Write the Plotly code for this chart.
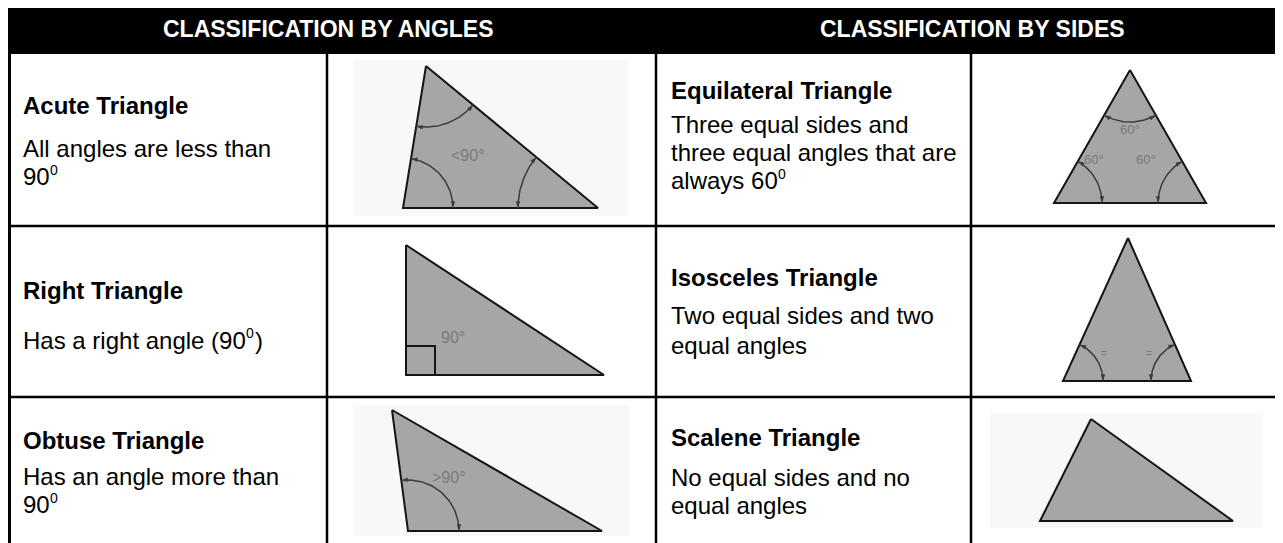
import numpy as np
import plotly.graph_objects as go

W, H = 1283, 543
OFF = 8  # the page body margin that the browser adds around the plot

# ---------------- data ----------------
header_titles = ["CLASSIFICATION BY ANGLES", "CLASSIFICATION BY SIDES"]
header_cx = [328, 972]

angle_names = ["Acute Triangle", "Right Triangle", "Obtuse Triangle"]
angle_name_y = [105, 290, 440]
# each description line: (text, superscript, text after superscript)
angle_desc = [[("All angles are less than", "", ""), ("90", "0", "")],
              [("Has a right angle (90", "0", ")")],
              [("Has an angle more than", "", ""), ("90", "0", "")]]
angle_desc_y = [[148, 176.5], [340], [476, 504.5]]

side_names = ["Equilateral Triangle", "Isosceles Triangle", "Scalene Triangle"]
side_name_y = [90, 277, 437]
side_desc = [[("Three equal sides and", "", ""), ("three equal angles that are", "", ""),
              ("always 60", "0", "")],
             [("Two equal sides and two", "", ""), ("equal angles", "", "")],
             [("No equal sides and no", "", ""), ("equal angles", "", "")]]
side_desc_y = [[124, 152, 180.5], [315, 345], [477, 505]]

col_x = [9.5, 327, 656, 971]
row_y = [53, 226, 397]

# triangle vertices
acute_x, acute_y = [426, 403, 598], [66, 208, 208]
right_x, right_y = [406, 406, 604], [245, 375, 375]
obtuse_x, obtuse_y = [392, 408, 602], [410, 531, 531]
equi_x, equi_y = [1130, 1054, 1206], [70, 203, 203]
isos_x, isos_y = [1128, 1063, 1191], [238, 381, 381]
scal_x, scal_y = [1091, 1040, 1233], [419, 521, 521]

# angle arcs: (triangle, vertex index, radius)
arcs = [("acute", 0, 61), ("acute", 1, 50), ("acute", 2, 80),
        ("obtuse", 1, 51),
        ("equi", 0, 52), ("equi", 1, 48), ("equi", 2, 48),
        ("isos", 1, 40), ("isos", 2, 40)]

angle_labels = ["<90°", "90°", ">90°", "60°", "60°", "60°", "=", "="]
angle_label_x = [468, 453, 449, 1130, 1094, 1146, 1104, 1149]
angle_label_y = [155, 337, 477, 129, 159, 159, 353, 353]
angle_label_size = [16, 16, 16, 13, 13, 13, 10, 10]

# light image backgrounds behind some pictures
bg_x0 = [353, 353, 990]
bg_x1 = [628, 629, 1263]
bg_y0 = [60, 405, 413]
bg_y1 = [216, 536, 528]

tris = {"acute": (acute_x, acute_y), "right": (right_x, right_y),
        "obtuse": (obtuse_x, obtuse_y), "equi": (equi_x, equi_y),
        "isos": (isos_x, isos_y), "scal": (scal_x, scal_y)}

# ---------------- figure ----------------
FONT = "Liberation Sans, Arial, sans-serif"
FS = 24        # body font size
HFS = 23       # header font size
SUP = 14       # superscript font size
# Arial / Liberation Sans advance widths (em) for the glyphs used before a superscript
ADV = {" ": .278, "(": .333, "0": .556, "6": .556, "9": .556, "H": .722, "a": .556, "e": .556,
       "g": .556, "h": .556, "i": .222, "l": .222, "n": .556, "r": .333, "s": .5, "t": .278,
       "w": .722, "y": .5}


def text_w(s, size):
    return sum(ADV.get(c, .556) for c in s) * size


fig = go.Figure()
shapes = []
annotations = []

for x0, x1, y0, y1 in zip(bg_x0, bg_x1, bg_y0, bg_y1):
    shapes.append(dict(type="rect", x0=x0, x1=x1, y0=y0, y1=y1, xref="x", yref="y",
                       fillcolor="#f8f8f8", line=dict(width=0), layer="below"))

# header
shapes.append(dict(type="rect", x0=8, x1=W + 2, y0=5, y1=row_y[0] + 1, xref="x", yref="y",
                   fillcolor="black", line=dict(width=0)))
for t, cx in zip(header_titles, header_cx):
    annotations.append(dict(x=cx, y=29, text=t, showarrow=False, xanchor="center", yanchor="middle",
                            font=dict(family=FONT, size=HFS, color="white", weight="bold")))

# table grid
for i, xv in enumerate(col_x):
    shapes.append(dict(type="line", x0=xv, x1=xv, y0=row_y[0], y1=H + 2, xref="x", yref="y",
                       line=dict(color="black", width=3 if i == 0 else 2.5)))
for yv in row_y[1:]:
    shapes.append(dict(type="line", x0=8, x1=W + 2, y0=yv, y1=yv, xref="x", yref="y",
                       line=dict(color="black", width=2.5)))

# triangles
for name, (tx, ty) in tris.items():
    fig.add_trace(go.Scatter(x=tx + [tx[0]], y=ty + [ty[0]], mode="lines", fill="toself",
                             fillcolor="#a6a6a6", line=dict(color="#151515", width=2),
                             hoverinfo="skip", showlegend=False))

# right-angle square
sq = 29
fig.add_trace(go.Scatter(x=[right_x[1], right_x[1] + sq, right_x[1] + sq],
                         y=[right_y[1] - sq, right_y[1] - sq, right_y[1]],
                         mode="lines", line=dict(color="#151515", width=2),
                         hoverinfo="skip", showlegend=False))

# angle arcs with arrowheads on both ends
ARC = "#3c3c3c"
head_x, head_y, head_ang = [], [], []
for tname, vi, r in arcs:
    tx, ty = tris[tname]
    cx, cy = tx[vi], ty[vi]
    others = [j for j in range(3) if j != vi]
    a0, a1 = [np.arctan2(ty[j] - cy, tx[j] - cx) for j in others]
    d = (a1 - a0 + np.pi) % (2 * np.pi) - np.pi
    ts = np.linspace(a0, a0 + d, 40)
    fig.add_trace(go.Scatter(x=cx + r * np.cos(ts), y=cy + r * np.sin(ts), mode="lines",
                             line=dict(color=ARC, width=1.5), hoverinfo="skip", showlegend=False))
    for aend, sgn in ((a0, -np.sign(d)), (a0 + d, np.sign(d))):
        dx, dy = -np.sin(aend) * sgn, np.cos(aend) * sgn
        head_x.append(cx + r * np.cos(aend))
        head_y.append(cy + r * np.sin(aend))
        head_ang.append(float(np.degrees(np.arctan2(dx, -dy))))
fig.add_trace(go.Scatter(x=head_x, y=head_y, mode="markers",
                         marker=dict(symbol="arrow", size=7, angle=head_ang, color=ARC,
                                     line=dict(width=0)),
                         hoverinfo="skip", showlegend=False))

# angle labels
for t, x, y, s in zip(angle_labels, angle_label_x, angle_label_y, angle_label_size):
    annotations.append(dict(x=x, y=y, text=t, showarrow=False, xanchor="center", yanchor="middle",
                            font=dict(family=FONT, size=s, color="#7a7a7a")))


def note(x, y, text, size, bold=False):
    annotations.append(dict(x=x, y=y, text=text, showarrow=False, xanchor="left", yanchor="middle",
                            font=dict(family=FONT, size=size, color="black",
                                      weight="bold" if bold else "normal")))


# row texts
def add_texts(names, name_y, descs, desc_y, x0):
    for nm, ny, ds, dy in zip(names, name_y, descs, desc_y):
        note(x0, ny, nm, FS, bold=True)
        for (main, sup, tail), ly in zip(ds, dy):
            note(x0, ly, main, FS)
            if sup:
                xs = x0 + text_w(main, FS)
                note(xs, ly - 7, sup, SUP)
                if tail:
                    note(xs + text_w(sup, SUP) + 1, ly, tail, FS)


add_texts(angle_names, angle_name_y, angle_desc, angle_desc_y, 21)
add_texts(side_names, side_name_y, side_desc, side_desc_y, 669)

fig.update_layout(
    width=W - OFF, height=H - OFF, margin=dict(l=0, r=0, t=0, b=0),
    paper_bgcolor="white", plot_bgcolor="white",
    xaxis=dict(range=[OFF, W], visible=False, fixedrange=True),
    yaxis=dict(range=[H, OFF], visible=False, fixedrange=True),
    shapes=shapes, annotations=annotations, showlegend=False,
)

fig.write_html("out.html")
